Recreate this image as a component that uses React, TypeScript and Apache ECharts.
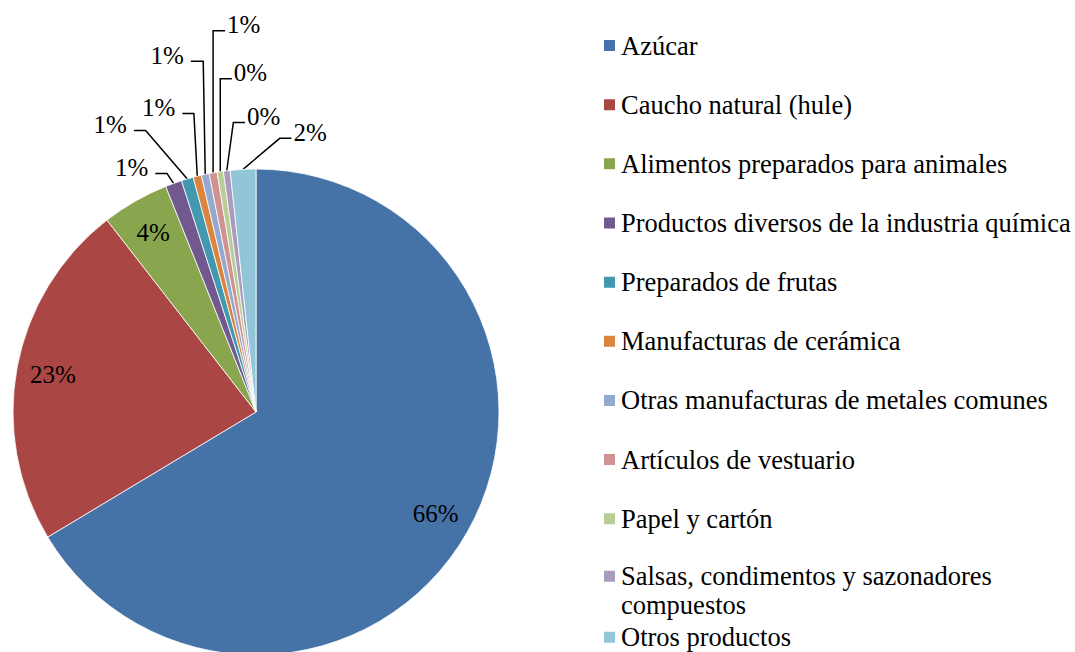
import React, { useEffect, useRef } from "react";
import * as echarts from "echarts";

const categories = [
  "Azúcar",
  "Caucho natural (hule)",
  "Alimentos preparados para animales",
  "Productos diversos de la industria química",
  "Preparados de frutas",
  "Manufacturas de cerámica",
  "Otras manufacturas de metales comunes",
  "Artículos de vestuario",
  "Papel y cartón",
  "Salsas, condimentos y sazonadores compuestos",
  "Otros productos",
];
const shares = [66.4, 23.1, 4.45, 1.1, 0.8, 0.55, 0.52, 0.53, 0.42, 0.44, 1.7];
const colors = [
  "#4572A7", "#AA4643", "#89A54E", "#71588F", "#4198AF", "#DB843D",
  "#93A9CF", "#D19392", "#B9CD96", "#A99BBD", "#92C5D8",
];
const insideCount = 3;
// leader line shape for the small slices: [elbow dx from rim, elbow dy from rim, horizontal run]
const leaders = [
  [-6.6, -10, -11.7],
  [-41.7, -48.3, -11.7],
  [-3.4, -62.7, -11.6],
  [-2, -113, -12.4],
  [0, -142, 12],
  [0, -93, 11.6],
  [6.6, -48.3, 11.7],
  [36.7, -31, 11.7],
];

const CX = 256;
const CY = 412;
const R = 243;
const FONT = "Liberation Serif";

export default function App() {
  const ref = useRef<HTMLDivElement>(null);
  useEffect(() => {
    if (!ref.current) return;
    const chart = echarts.init(ref.current, undefined, { renderer: "svg" });
    const total = shares.reduce((a, b) => a + b, 0);
    const mids: number[] = [];
    let cum = 0;
    shares.forEach((v) => {
      mids.push(((cum + v / 2) / total) * Math.PI * 2);
      cum += v;
    });
    const data = categories.map((name, i) => ({
      name,
      value: shares[i],
      itemStyle: { color: colors[i] },
      label: { position: i < insideCount ? "inside" : "outside" },
      labelLine: { show: i >= insideCount },
    }));
    const legendText = {
      fontFamily: FONT,
      fontSize: 26.5,
      color: "#000",
      lineHeight: 29,
    };
    const legendBase = {
      orient: "vertical",
      left: 602,
      padding: 0,
      itemWidth: 13,
      itemHeight: 13,
      icon: "rect",
      selectedMode: false,
      textStyle: legendText,
    };
    chart.setOption({
      animation: false,
      legend: [
        {
          ...legendBase,
          top: 31,
          itemGap: 30.16,
          data: categories.slice(0, 9),
        },
        {
          ...legendBase,
          top: 532.8,
          height: 200,
          itemGap: 3,
          data: categories.slice(9),
          formatter: (name: string) =>
            name.indexOf("sazonadores ") >= 0
              ? "\n" + name.replace("sazonadores ", "sazonadores\n")
              : name,
        },
      ],
      series: [
        {
          type: "pie",
          center: [CX, CY],
          radius: R,
          startAngle: 90,
          clockwise: true,
          avoidLabelOverlap: false,
          itemStyle: { borderColor: "#fff", borderWidth: 0.8 },
          emphasis: { disabled: true },
          label: {
            fontFamily: FONT,
            fontSize: 25,
            color: "#000",
            overflow: "none",
            formatter: (p: any) => Math.round(p.percent) + "%",
          },
          labelLine: {
            lineStyle: { color: "#000", width: 1.5 },
          },
          labelLayout: (p: any) => {
            const i = p.dataIndex;
            const sx = Math.sin(mids[i]);
            const sy = -Math.cos(mids[i]);
            if (i < insideCount) {
              return {
                x: CX + 0.85 * R * sx,
                y: CY + 0.85 * R * sy,
                align: "center",
                verticalAlign: "middle",
              };
            }
            const [ex, ey, h] = leaders[i - insideCount];
            const rx = CX + R * sx;
            const ry = CY + R * sy;
            const bx = rx + ex;
            const by = ry + ey;
            const endX = bx + h;
            return {
              x: endX + (h < 0 ? -7 : 2),
              y: by - 6,
              align: h < 0 ? "right" : "left",
              verticalAlign: "middle",
              labelLinePoints: [
                [rx, ry],
                [bx, by],
                [endX, by],
              ],
            };
          },
          data,
        },
      ],
    });
    return () => chart.dispose();
  }, []);
  return (
    <div
      ref={ref}
      style={{ position: "fixed", left: 0, top: 0, width: 1075, height: 652, background: "#fff" }}
    />
  );
}
